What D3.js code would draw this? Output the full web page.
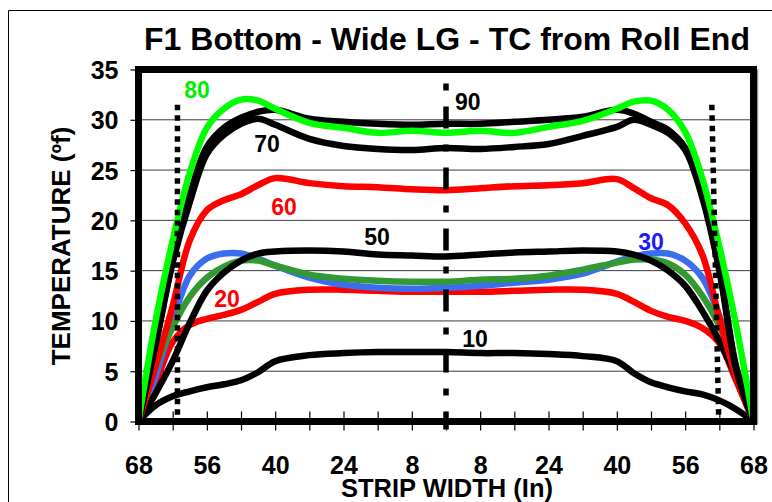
<!DOCTYPE html>
<html>
<head>
<meta charset="utf-8">
<script src="https://cdn.jsdelivr.net/npm/d3@7"></script>
<style>
  html, body { margin: 0; padding: 0; background: #fff; }
  svg { display: block; }
  text { font-family: "Liberation Sans", Arial, Helvetica, sans-serif; font-weight: bold; }
</style>
</head>
<body>
<svg id="chart" width="772" height="502"></svg>
<script>
// ---------------- DATA ----------------
const title = "F1 Bottom - Wide LG - TC from Roll End";
const yTitle = "TEMPERATURE (ºf)";
const xTitle = "STRIP WIDTH (In)";

// sample positions across the strip (category index 0..18)
const xs = [0, 0.5, 1, 1.5, 2, 2.5, 3, 3.5, 4, 5, 6, 7, 8, 9, 10, 11, 12, 13, 14, 14.5, 15, 15.5, 16, 16.5, 17, 17.5, 18];

// x-axis tick labels at category index 0..18
const xTickLabels = ["68","","56","","40","","24","","8","","8","","24","","40","","56","","68"];
const yTicks = [0, 5, 10, 15, 20, 25, 30, 35];
const yGrid = [5, 10, 15, 20, 25, 30];

const s10 = [0, 1.6, 2.5, 3.0, 3.4, 3.7, 4.1, 4.9, 6.0, 6.6, 6.8, 6.9, 6.9, 6.9, 6.8, 6.8, 6.7, 6.5, 6.0, 4.8, 3.9, 3.4, 3.0, 2.7, 2.1, 1.2, 0];
const s20 = [0, 3.8, 7.9, 9.6, 10.2, 10.6, 11.1, 11.9, 12.7, 13.1, 13.1, 13.0, 12.9, 12.9, 12.9, 13.0, 13.1, 13.1, 12.7, 11.9, 11.0, 10.4, 10.0, 9.3, 7.8, 4.0, 0];
const s30 = [0, 4.5, 10.0, 14.5, 16.2, 16.7, 16.7, 16.2, 15.5, 14.3, 13.6, 13.3, 13.2, 13.3, 13.5, 13.8, 14.1, 14.7, 15.9, 16.4, 16.7, 16.7, 16.0, 14.3, 10.5, 5.0, 0];
const s40 = [0, 5.5, 9.4, 12.4, 14.3, 15.4, 16.0, 16.0, 15.5, 14.6, 14.2, 14.0, 13.9, 13.9, 14.1, 14.2, 14.5, 15.1, 15.8, 16.1, 16.1, 15.7, 14.6, 12.5, 9.5, 5.3, 0];
const s50 = [0, 2.8, 6.0, 9.8, 13.0, 14.8, 16.0, 16.7, 16.9, 17.0, 16.9, 16.6, 16.5, 16.4, 16.6, 16.8, 16.9, 17.0, 16.9, 16.6, 16.0, 15.0, 13.5, 11.0, 8.0, 4.3, 0];
const s60 = [0, 5.5, 11.5, 18.0, 21.0, 22.0, 22.6, 23.5, 24.2, 23.7, 23.4, 23.3, 23.1, 23.0, 23.2, 23.4, 23.5, 23.7, 24.1, 23.2, 22.2, 21.5, 19.7, 16.6, 10.3, 4.3, 0];
const s70 = [0, 7.6, 15.8, 21.8, 26.6, 28.5, 29.6, 30.1, 29.5, 28.1, 27.4, 27.1, 27.0, 27.2, 27.1, 27.3, 27.6, 28.4, 29.3, 30.0, 29.5, 28.7, 27.0, 22.3, 15.0, 5.1, 0];
const s80 = [0, 10.0, 18.0, 24.7, 29.2, 31.1, 32.0, 31.9, 31.1, 29.7, 29.2, 28.7, 28.9, 28.7, 28.9, 28.7, 29.3, 29.9, 31.1, 31.8, 31.9, 31.0, 28.8, 24.2, 17.4, 9.4, 0];
const s90 = [0, 7.8, 16.0, 22.5, 27.3, 29.2, 30.2, 30.8, 31.0, 30.1, 29.8, 29.6, 29.5, 29.6, 29.6, 29.8, 30.0, 30.3, 31.0, 30.6, 29.8, 29.0, 27.2, 22.5, 15.3, 5.3, 0];

// drawing order (last on top)
const seriesNames = ["10", "20", "30", "40", "50", "60", "70", "90", "80"];
const seriesValues = [s10, s20, s30, s40, s50, s60, s70, s90, s80];
const seriesColors = ["#000000", "#ff0000", "#3a6df0", "#339933", "#000000", "#ff0000", "#000000", "#000000", "#00ff00"];

// in-chart series labels (data coordinates)
const labelText = ["80", "90", "70", "60", "50", "30", "20", "10"];
const labelX = [1.71, 9.64, 3.76, 4.26, 6.98, 15.0, 2.59, 9.85];
const labelY = [32.17, 30.97, 26.8, 20.53, 17.55, 17.05, 11.39, 7.41];
const labelColor = ["#00ee00", "#000000", "#000000", "#ff0000", "#000000", "#1a1aff", "#ff0000", "#000000"];

// reference lines (data coordinates)
const leftDotted = [[1.14, 31.5], [1.14, 0.55]];
const rightDotted = [[16.78, 31.5], [16.98, 0.55]];
const centerLine = [[9, 33.6], [9, -0.8]];

// ---------------- CHART ----------------
const svg = d3.select("#chart");
const x = d3.scaleLinear().domain([0, 18]).range([138.5, 753.5]);
const y = d3.scaleLinear().domain([0, 35]).range([421.5, 69.5]);

// outer frame
svg.append("path").attr("d", "M8.5,502 L8.5,10.5 L772,10.5")
  .attr("fill", "none").attr("stroke", "#000").attr("stroke-width", 1);

// title
svg.append("text").attr("x", 447).attr("y", 50).attr("text-anchor", "middle")
  .attr("font-size", 32).text(title);

// gridlines
svg.append("g").selectAll("line").data(yGrid).join("line")
  .attr("x1", x(0)).attr("x2", x(18))
  .attr("y1", d => y(d)).attr("y2", d => y(d))
  .attr("stroke", "#3a3a3a").attr("stroke-width", 1);

// y axis
const yAxis = d3.axisLeft(y).tickValues(yTicks).tickSize(8).tickPadding(12).tickFormat(d3.format("d"));
const gy = svg.append("g").attr("transform", `translate(${x(0)},0)`).call(yAxis);
gy.select(".domain").remove();
gy.selectAll("text").attr("font-size", 25).attr("font-family", null).attr("fill", "#000").attr("dy", "0.36em");
gy.selectAll("line").attr("stroke", "#000").attr("stroke-width", 1.2);

// x axis
const xAxis = d3.axisBottom(x).tickValues(d3.range(19)).tickSize(9).tickPadding(0)
  .tickFormat((d, i) => xTickLabels[i]);
const gx = svg.append("g").attr("transform", `translate(0,${y(0)})`).call(xAxis);
gx.select(".domain").remove();
gx.selectAll("line").attr("y1", -10).attr("y2", 9).attr("stroke", "#000").attr("stroke-width", 1.2);
gx.selectAll("text").attr("font-size", 25).attr("font-family", null).attr("fill", "#000")
  .attr("y", 52).attr("dy", null);

// axis titles
svg.append("text").attr("transform", "translate(70,246) rotate(-90)")
  .attr("text-anchor", "middle").attr("font-size", 26).text(yTitle);
svg.append("text").attr("x", 447).attr("y", 497).attr("text-anchor", "middle")
  .attr("font-size", 25.5).text(xTitle);

// series lines
const line = d3.line().x(d => x(d[0])).y(d => y(d[1])).curve(d3.curveCatmullRom.alpha(0.5));
const gLines = svg.append("g");
seriesValues.forEach((vals, i) => {
  gLines.append("path")
    .datum(xs.map((xv, k) => [xv, vals[k]]))
    .attr("d", line)
    .attr("fill", "none")
    .attr("stroke", seriesColors[i])
    .attr("stroke-width", 6.5)
    .attr("stroke-linejoin", "round")
    .attr("stroke-linecap", "round");
});

// reference lines
const straight = d3.line().x(d => x(d[0])).y(d => y(d[1]));
[leftDotted, rightDotted].forEach(pts => {
  svg.append("path").attr("d", straight(pts)).attr("fill", "none")
    .attr("stroke", "#000").attr("stroke-width", 5.5).attr("stroke-dasharray", "5.5,5");
});
svg.append("path").attr("d", straight(centerLine)).attr("fill", "none")
  .attr("stroke", "#000").attr("stroke-width", 5.5).attr("stroke-dasharray", "7,16,22,16");

// plot frame
svg.append("line").attr("x1", x(18) + 4).attr("x2", x(18) + 4).attr("y1", y(35)).attr("y2", y(0) + 3)
  .attr("stroke", "#999").attr("stroke-width", 1.5);
svg.append("rect").attr("x", x(0)).attr("y", y(35)).attr("width", x(18) - x(0)).attr("height", y(0) - y(35))
  .attr("fill", "none").attr("stroke", "#000").attr("stroke-width", 7);

// series labels
svg.append("g").selectAll("text").data(labelText).join("text")
  .attr("x", (d, i) => x(labelX[i])).attr("y", (d, i) => y(labelY[i]))
  .attr("text-anchor", "middle").attr("font-size", 23)
  .attr("fill", (d, i) => labelColor[i]).text(d => d);
</script>
</body>
</html>
